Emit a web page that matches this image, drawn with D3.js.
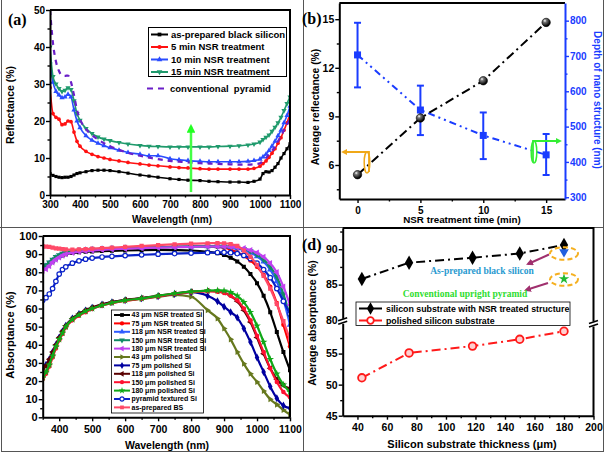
<!DOCTYPE html>
<html><head><meta charset="utf-8">
<script src="https://cdnjs.cloudflare.com/ajax/libs/d3/7.8.5/d3.min.js"></script>
<style>body{margin:0;background:#fff}svg{display:block}</style>
</head><body>
<script>
// ================= DATA =================
// Panel (a) reflectance vs wavelength
const wlA = [300,310,320,330,340,350,360,370,380,390,400,420,440,460,480,500,530,560,600,630,660,700,730,760,800,830,860,900,930,960,980,1000,1010,1020,1030,1040,1050,1060,1070,1080,1090,1100];
const refBS   = [5.8,5.3,5.0,4.8,4.7,4.8,4.8,5.0,5.4,5.8,6.0,6.3,6.6,6.7,6.7,6.6,6.3,5.9,5.4,5.1,4.8,4.4,4.2,4.0,3.9,3.7,3.6,3.5,3.5,3.4,3.7,4.3,5.8,6.3,6.2,6.6,7.5,8.5,10.0,11.2,12.5,13.8];
const ref5    = [29,22,21,20.5,19,19.2,20,19.8,17,14.5,13.2,11.8,11,10.4,10,9.6,9.2,8.8,8.4,8.1,7.9,7.6,7.4,7.3,7.1,7.0,7.0,7.0,7.0,7.0,7.2,7.8,8.5,9.2,10.2,11.3,12.5,14,15.5,17.5,19.5,22];
const ref10   = [36,30.5,28,27,26.3,26.5,27.2,26.5,23,20,18.2,16,14.8,14,13.3,12.8,12.1,11.5,11,10.6,10.6,9.8,9.5,9.3,9.1,9.0,9.0,9.0,9.0,9.1,9.3,9.7,10.3,11,12,13.2,14.5,16,17.5,19.5,21.5,24];
const ref15   = [40,32,30,28.8,28,28.3,29,28.5,25.5,22,20.2,18,16.6,15.7,15.1,14.7,14.2,13.8,13.4,13.2,13.1,13.0,13.0,13.0,13.0,13.0,13.1,13.2,13.3,13.5,13.8,14.3,15,15.6,16.2,17.2,18.3,19.5,21,22.8,24.7,26.5];
const refPyr  = [50,41,36,33.5,32.3,32.2,32.3,30.5,27,23,20.5,17.8,16.2,15,14,13.2,12.2,11.4,10.6,10.1,9.7,9.2,9.0,8.8,8.6,8.5,8.4,8.3,8.2,8.2,8.3,8.6,9.2,10,11,12,13,14.5,16,17.5,19,20.5];
const namesA = ["as-prepared black silicon","5 min NSR treatment","10 min NSR treatment","15 min NSR treatment","conventional  pyramid"];
const xTicksA = [300,400,500,600,700,800,900,1000,1100];
const yTicksA = [0,10,20,30,40,50];

// Panel (b)
const timeB = [0,5,10,15];
const reflB = [5.4,8.9,11.2,14.8];
const depthB = [703,547,475,420];
const depthLo = [611,476,408,363];
const depthHi = [794,616,540,479];
const xTicksB = [0,5,10,15];
const yTicksBL = [6,9,12,15];
const yTicksBR = [300,400,500,600,700,800];

// Panel (c) absorptance vs wavelength
const wlC = [350,360,370,380,390,400,410,420,440,460,480,500,530,560,600,650,700,750,800,850,880,900,920,940,960,980,1000,1020,1040,1060,1080,1100];
const nsr43  = [82,83,84.5,86,87.5,88.5,89.3,90,90.6,91,91.3,91.5,91.7,91.8,92,92.2,92.3,92.2,92,91.3,90.5,89.5,88,86,83,79,74,67,58,47,36,26];
const nsr75  = [82.5,83.5,85,86.5,88,89,90,90.7,91.3,91.8,92.1,92.4,92.7,93,93.3,93.6,93.8,94,94.2,94.3,94,93.5,92.5,91,89,86.5,83,78.5,72,63,51,39];
const nsr118 = [82.5,83.5,85,86.5,88,89,90,90.8,91.5,92,92.3,92.6,92.9,93.1,93.4,93.6,93.8,94,94.2,94.3,94.3,94.2,93.8,93.2,92.2,90.8,88.8,85.8,81.5,75,65,51];
const nsr150 = [83,84,85.5,87,88.5,89.5,90.3,91,91.6,92,92.3,92.6,92.9,93.1,93.4,93.6,93.8,94,94.2,94.3,94.3,94.3,94,93.6,92.8,91.6,89.8,87,83,77.5,68,56];
const nsr180 = [81,81.8,83.5,85.5,87,88.2,89.2,90,90.8,91.3,91.7,92,92.4,92.7,93,93.3,93.6,93.8,94,94.2,94.2,94.2,94,93.7,93.2,92.2,90.8,88.5,85,80,72,62];
const pol43  = [22,25,29,34,39,43,47,50,54,56.5,58.5,60,61.8,63,64.3,65.3,66.5,67.5,66.5,59,54.5,49,43,36,29.5,24,19.5,14.5,10,7,4,1.5];
const pol75  = [27,29,32,36,40,44,47.5,50.5,54.5,57,59,60.5,62.2,63.5,64.6,65.6,66.8,68,69,67,64,61,58,55,49,41.5,33,25,17,10.5,6.5,5];
const pol118 = [26,28.5,32,36,40,44,47.5,50.5,54.5,57,59,60.5,62.3,63.6,64.8,65.8,67,68.3,69.3,69.8,69.5,68.8,67,64,59,52.5,44,35,27,21,17.5,16];
const pol150 = [21,24,28,33,38,42.5,46,49.5,53.5,56,58,59.8,61.7,63,64.3,65.4,66.7,68,69,69.5,69.3,68.6,67,64.5,60,53.5,45,36,27,19.5,14,11];
const pol180 = [22,25,29,34,39,43,46.5,50,54,56.5,58.5,60,61.8,63.2,64.5,65.6,67,68.3,69.3,69.9,70,69.8,69,67,63.5,58,50.5,41.5,32,24,18,14];
const pyrC   = [64.5,66,68,71,75,79,81.5,83,85,86.3,87.2,87.8,88.4,88.8,89.2,89.6,90,90.3,90.6,90.8,90.9,91,90.8,90.3,89.3,87.5,85,81.5,77,71,64,57];
const bsC    = [94.3,94.2,94,93.6,93.2,93,92.8,92.6,92.5,92.6,92.8,93,93.3,93.6,94,94.5,95,95.4,95.8,96,96.1,96,95.5,94.5,92,88.5,84,78,71,62.5,53,43];
const namesC = ["43 \u03bcm NSR treated Si","75 \u03bcm NSR treated Si","118 \u03bcm NSR treated Si","150 \u03bcm NSR treated Si","180 \u03bcm NSR treated Si","43 \u03bcm polished Si","75 \u03bcm polished Si","118 \u03bcm polished Si","150 \u03bcm polished Si","180 \u03bcm polished Si","pyramid textured Si","as-prepared BS"];
const xTicksC = [400,500,600,700,800,900,1000,1100];
const yTicksC = [0,10,20,30,40,50,60,70,80,90,100];

// Panel (d)
const thickD = [43,75,118,150,180];
const absNSR = [85.8,88.1,88.8,89.4,90.6];
const absPol = [51.1,55.1,56.2,57.3,58.6];
const bsPointD = [180,89.6];
const pyrPointD = [180,85.8];
const namesD = ["silicon substrate with NSR treated structure","polished silicon substrate"];
const xTicksD = [40,60,80,100,120,140,160,180,200];
const yTicksDU = [80,85,90];
const yTicksDL = [45,50,55];

// ================= DRAW =================
const FONT = "Arial, 'Liberation Sans', sans-serif";
const SERIF = "'Times New Roman', 'Liberation Serif', serif";
const svg = d3.select("body").append("svg").attr("width",606).attr("height",455)
  .style("font-family",FONT).style("font-weight","bold");
const defs = svg.append("defs");
function arrowMarker(id,color){
  defs.append("marker").attr("id",id).attr("viewBox","0 0 10 10").attr("refX",7).attr("refY",5)
    .attr("markerWidth",3.5).attr("markerHeight",3.5).attr("orient","auto")
    .append("path").attr("d","M0,0L10,5L0,10z").attr("fill",color);
}
arrowMarker("arG","#33ee33"); arrowMarker("arO","#f0a818"); arrowMarker("arP","#a0306e"); arrowMarker("arG2","#22ff22");
const grad = defs.append("radialGradient").attr("id","sph").attr("cx","35%").attr("cy","30%").attr("r","65%");
grad.append("stop").attr("offset","0%").attr("stop-color","#fff");
grad.append("stop").attr("offset","30%").attr("stop-color","#777");
grad.append("stop").attr("offset","100%").attr("stop-color","#000");

// figure frame & dividers
const fc = "#555";
svg.append("rect").attr("x",1.5).attr("y",-3).attr("width",602).attr("height",454.5).attr("fill","none").attr("stroke",fc);
svg.append("line").attr("x1",303.5).attr("x2",303.5).attr("y1",0).attr("y2",452).attr("stroke",fc);
svg.append("line").attr("x1",0).attr("x2",604).attr("y1",227.5).attr("y2",227.5).attr("stroke",fc);

function drawAxis(gen, scale, tf, majors, minors, o){
  o = Object.assign({color:"#000", fs:10, len:4, mlen:2.5, pad:2, sw:2, fmt:d=>d}, o||{});
  const a = svg.append("g").attr("transform", tf);
  a.call(gen(scale).tickValues(majors).tickSize(o.len).tickSizeOuter(0).tickPadding(o.pad).tickFormat(o.fmt));
  const m = a.append("g").call(gen(scale).tickValues(minors).tickSize(o.mlen).tickSizeOuter(0).tickFormat(""));
  m.select(".domain").remove();
  a.selectAll(".domain").attr("stroke",o.color).attr("stroke-width",o.sw);
  a.selectAll(".tick line").attr("stroke",o.color).attr("stroke-width",1.4);
  a.selectAll(".tick text").attr("fill",o.color).attr("font-size",o.fs).attr("font-weight","bold").attr("font-family",FONT);
  return a;
}
function text(x,y,s,o){
  o = Object.assign({fs:10, anchor:"middle", rot:0, color:"#000", family:FONT, dy:"0"}, o||{});
  return svg.append("text").attr("transform",`translate(${x},${y}) rotate(${o.rot})`)
    .attr("text-anchor",o.anchor).attr("dy",o.dy).attr("font-size",o.fs).attr("fill",o.color)
    .attr("font-family",o.family).attr("font-weight","bold").text(s);
}
function sym(type,size){ return d3.symbol().type(type).size(size)(); }
function clip(id,x,y,w,h){ defs.append("clipPath").attr("id",id).append("rect").attr("x",x).attr("y",y).attr("width",w).attr("height",h); }

// ---------- Panel (a) ----------
const xA = d3.scaleLinear().domain([300,1100]).range([50,290]);
const yA = d3.scaleLinear().domain([0,50]).range([195,10]);
clip("clipA",50,10,240,185);
const gA = svg.append("g").attr("clip-path","url(#clipA)");
const seriesA = [
  {v:refBS, c:"#000000", s:d3.symbolSquare, sz:10},
  {v:ref5,  c:"#ff1010", s:d3.symbolCircle, sz:11},
  {v:ref10, c:"#2a4cff", s:d3.symbolTriangle, sz:12},
  {v:ref15, c:"#1f9a6c", s:d3.symbolTriangle, sz:12, rot:180},
];
const lineA = (v)=>d3.line().x((d,i)=>xA(wlA[i])).y(d=>yA(d)).curve(d3.curveMonotoneX)(v);
seriesA.forEach(s=>{
  gA.append("path").attr("d",lineA(s.v)).attr("fill","none").attr("stroke",s.c).attr("stroke-width",1.6);
  gA.selectAll(null).data(s.v).enter().append("path").attr("d",sym(s.s,s.sz))
    .attr("transform",(d,i)=>`translate(${xA(wlA[i])},${yA(d)}) rotate(${s.rot||0})`).attr("fill",s.c);
});
gA.append("path").attr("d",lineA(refPyr)).attr("fill","none").attr("stroke","#6a1fc8").attr("stroke-width",2.2).attr("stroke-dasharray","5,5");
svg.append("path").attr("d","M50,10H290V195").attr("fill","none").attr("stroke","#000").attr("stroke-width",2);
drawAxis(d3.axisBottom,xA,"translate(0,195)",xTicksA,d3.range(350,1100,100),{fs:10,pad:2});
drawAxis(d3.axisLeft,yA,"translate(50,0)",yTicksA,[5,15,25,35,45],{fs:10,pad:1});
// green arrow
svg.append("line").attr("x1",xA(770)).attr("x2",xA(770)).attr("y1",yA(0.8)).attr("y2",yA(18.5))
  .attr("stroke","#44ff44").attr("stroke-width",2.5).attr("marker-end","url(#arG2)");
// legend a
svg.append("rect").attr("x",148.5).attr("y",27.5).attr("width",138).attr("height",49).attr("fill","#fff").attr("stroke","#000").attr("stroke-width",1);
const legYA = [34.5,47,59.5,72];
seriesA.forEach((s,i)=>{
  svg.append("line").attr("x1",151).attr("x2",168).attr("y1",legYA[i]).attr("y2",legYA[i]).attr("stroke",s.c).attr("stroke-width",2);
  svg.append("path").attr("d",sym(s.s,14)).attr("transform",`translate(159.5,${legYA[i]}) rotate(${s.rot||0})`).attr("fill",s.c);
  text(171,legYA[i],namesA[i],{fs:9.5,anchor:"start",dy:"0.35em"});
});
svg.append("line").attr("x1",147).attr("x2",166).attr("y1",88.5).attr("y2",88.5).attr("stroke","#6a1fc8").attr("stroke-width",2.2).attr("stroke-dasharray","6,5");
text(170,88.5,namesA[4],{fs:9.5,anchor:"start",dy:"0.35em"}).attr("xml:space","preserve");
text(172,223,"Wavelength (nm)",{fs:10});
text(10,105,"Reflectance (%)",{fs:10.5,rot:-90,dy:"0.35em"});
text(8,25,"(a)",{fs:16,anchor:"start",family:SERIF});

// ---------- Panel (b) ----------
const xB = d3.scaleLinear().domain([-1.45,16.5]).range([339.3,565]);
const yBL = d3.scaleLinear().domain([3.9,16]).range([199,3]);
const yBR = d3.scaleLinear().domain([295,850]).range([199,3]);
svg.append("line").attr("x1",339.3).attr("x2",565).attr("y1",3).attr("y2",3).attr("stroke","#000").attr("stroke-width",2);
drawAxis(d3.axisBottom,xB,"translate(0,199)",xTicksB,[2.5,7.5,12.5],{fs:10,pad:4,len:4});
drawAxis(d3.axisLeft,yBL,"translate(339.3,0)",yTicksBL,[4.5,7.5,10.5,13.5],{fs:10.5,pad:1});
const blue = "#1a3cff";
drawAxis(d3.axisRight,yBR,"translate(565,0)",yTicksBR,[350,450,550,650,750],{fs:10,pad:1,color:blue});
// blue dash-dot-dot line
svg.append("path").attr("d",d3.line().x((d,i)=>xB(timeB[i])).y(d=>yBR(d))(depthB))
  .attr("fill","none").attr("stroke",blue).attr("stroke-width",2).attr("stroke-dasharray","7,4,2,4,2,4");
// error bars
timeB.forEach((t,i)=>{
  const x = xB(t);
  svg.append("line").attr("x1",x).attr("x2",x).attr("y1",yBR(depthLo[i])).attr("y2",yBR(depthHi[i])).attr("stroke",blue).attr("stroke-width",2);
  [depthLo[i],depthHi[i]].forEach(v=>svg.append("line").attr("x1",x-3.5).attr("x2",x+3.5).attr("y1",yBR(v)).attr("y2",yBR(v)).attr("stroke",blue).attr("stroke-width",2));
});
svg.selectAll(null).data(depthB).enter().append("rect")
  .attr("x",(d,i)=>xB(timeB[i])-3.5).attr("y",d=>yBR(d)-3.5).attr("width",7).attr("height",7).attr("fill",blue);
// black dash-dot line
svg.append("path").attr("d",d3.line().x((d,i)=>xB(timeB[i])).y(d=>yBL(d))(reflB))
  .attr("fill","none").attr("stroke","#000").attr("stroke-width",2).attr("stroke-dasharray","9,4,2,4");
svg.selectAll(null).data(reflB).enter().append("circle")
  .attr("cx",(d,i)=>xB(timeB[i])).attr("cy",d=>yBL(d)).attr("r",4.2).attr("fill","url(#sph)").attr("stroke","#000").attr("stroke-width",0.6);
// annotations
svg.append("ellipse").attr("cx",367).attr("cy",162.5).attr("rx",2.8).attr("ry",10.5).attr("fill","none").attr("stroke","#f0a818").attr("stroke-width",1.5);
svg.append("path").attr("d","M369,172 V152 H343").attr("fill","none").attr("stroke","#f0a818").attr("stroke-width",1.8).attr("marker-end","url(#arO)");
svg.append("ellipse").attr("cx",534).attr("cy",152).attr("rx",2.8).attr("ry",11).attr("fill","none").attr("stroke","#33ee33").attr("stroke-width",1.5);
svg.append("path").attr("d","M533,162 V141 H560").attr("fill","none").attr("stroke","#33ee33").attr("stroke-width",1.8).attr("marker-end","url(#arG)");
text(462,223,"NSR treatment time (min)",{fs:9.8});
text(315,107,"Average reflectance (%)",{fs:10.3,rot:-90,dy:"0.35em"});
text(597.5,100,"Depth of nano structure (nm)",{fs:10,rot:90,dy:"0.35em",color:blue});
text(302,24,"(b)",{fs:16,anchor:"start",family:SERIF});

// ---------- Panel (c) ----------
const xC = d3.scaleLinear().domain([350,1100]).range([42.7,290]);
const yC = d3.scaleLinear().domain([0,100]).range([417.3,236]);
clip("clipC",42.7,236,247.3,181.3);
const gC = svg.append("g").attr("clip-path","url(#clipC)");
const seriesC = [
  {v:nsr43,  c:"#000000", s:d3.symbolSquare, sz:16},
  {v:nsr75,  c:"#ff0000", s:d3.symbolCircle, sz:16},
  {v:nsr118, c:"#2f5cff", s:d3.symbolTriangle, sz:18},
  {v:nsr150, c:"#118a66", s:d3.symbolTriangle, sz:18, rot:180},
  {v:nsr180, c:"#c040f0", s:d3.symbolTriangle, sz:18, rot:-90},
  {v:pol43,  c:"#66781e", s:d3.symbolTriangle, sz:16, rot:90},
  {v:pol75,  c:"#0000a0", s:d3.symbolDiamond, sz:18},
  {v:pol118, c:"#5a0000", s:d3.symbolTriangle, sz:16, rot:-90},
  {v:pol150, c:"#ff1030", s:d3.symbolCircle, sz:16},
  {v:pol180, c:"#10a818", s:d3.symbolStar, sz:18},
  {v:pyrC,   c:"#0a22c8", s:d3.symbolCircle, sz:16, open:true},
  {v:bsC,    c:"#ff4a68", s:d3.symbolSquare, sz:18},
];
const lineC = (v)=>d3.line().x((d,i)=>xC(wlC[i])).y(d=>yC(d)).curve(d3.curveMonotoneX)(v);
seriesC.forEach(s=>{
  gC.append("path").attr("d",lineC(s.v)).attr("fill","none").attr("stroke",s.c).attr("stroke-width",2.2);
  gC.selectAll(null).data(s.v).enter().append("path").attr("d",sym(s.s,s.sz))
    .attr("transform",(d,i)=>`translate(${xC(wlC[i])},${yC(d)}) rotate(${s.rot||0})`)
    .attr("fill",s.open?"#fff":s.c).attr("stroke",s.open?s.c:"none").attr("stroke-width",1.2);
});
svg.append("path").attr("d","M42.7,236H290V417.3").attr("fill","none").attr("stroke","#000").attr("stroke-width",2);
drawAxis(d3.axisBottom,xC,"translate(0,417.3)",xTicksC,d3.range(350,1100,100),{fs:10.5,pad:4});
drawAxis(d3.axisLeft,yC,"translate(42.7,0)",yTicksC,d3.range(5,100,10),{fs:11,pad:1});
// legend c
svg.append("rect").attr("x",111.5).attr("y",310).attr("width",92).attr("height",103).attr("fill","#fff").attr("stroke","#000").attr("stroke-width",0.8);
seriesC.forEach((s,i)=>{
  const y = 315 + i*8.4;
  svg.append("line").attr("x1",114).attr("x2",130).attr("y1",y).attr("y2",y).attr("stroke",s.c).attr("stroke-width",2);
  svg.append("path").attr("d",sym(s.s,14)).attr("transform",`translate(122,${y}) rotate(${s.rot||0})`)
    .attr("fill",s.open?"#fff":s.c).attr("stroke",s.open?s.c:"none").attr("stroke-width",1.2);
  text(131.5,y,namesC[i],{fs:7,anchor:"start",dy:"0.35em"});
});
text(167,449,"Wavelength (nm)",{fs:10.5});
text(10,335,"Absorptance (%)",{fs:11,rot:-90,dy:"0.35em"});

// ---------- Panel (d) ----------
const xD = d3.scaleLinear().domain([30,200]).range([342.7,593.5]);
const yDU = d3.scaleLinear().domain([80,93]).range([320,228]);
const yDL = d3.scaleLinear().domain([45,60]).range([415.7,322.5]);
svg.append("path").attr("d","M342.7,228H593.5V415.7").attr("fill","none").attr("stroke","#000").attr("stroke-width",2);
drawAxis(d3.axisBottom,xD,"translate(0,415.7)",xTicksD,d3.range(50,200,20),{fs:10.5,pad:4});
drawAxis(d3.axisLeft,yDU,"translate(342.7,0)",yTicksDU,[82.5,87.5,92.5],{fs:10.5,pad:1});
drawAxis(d3.axisLeft,yDL,"translate(342.7,0)",yTicksDL,[47.5,52.5,57.5],{fs:10.5,pad:1});
// break marks
function brk(x,y){
  svg.append("rect").attr("x",x-4).attr("y",y-2.5).attr("width",8).attr("height",5).attr("fill","#fff");
  svg.append("line").attr("x1",x-4.5).attr("x2",x+4.5).attr("y1",y-0.5).attr("y2",y-3.5).attr("stroke","#000").attr("stroke-width",1.5);
  svg.append("line").attr("x1",x-4.5).attr("x2",x+4.5).attr("y1",y+3).attr("y2",y).attr("stroke","#000").attr("stroke-width",1.5);
}
brk(342.7,321.3); brk(593.5,324);
// lines
svg.append("path").attr("d",d3.line().x((d,i)=>xD(thickD[i])).y(d=>yDU(d))(absNSR))
  .attr("fill","none").attr("stroke","#000").attr("stroke-width",2).attr("stroke-dasharray","9,4,2,4");
svg.append("path").attr("d",d3.line().x((d,i)=>xD(thickD[i])).y(d=>yDL(d))(absPol))
  .attr("fill","none").attr("stroke","#ff1a1a").attr("stroke-width",2).attr("stroke-dasharray","9,4,2,4");
svg.selectAll(null).data(absNSR).enter().append("path").attr("d",sym(d3.symbolDiamond,60))
  .attr("transform",(d,i)=>`translate(${xD(thickD[i])},${yDU(d)})`).attr("fill","#000");
svg.selectAll(null).data(absPol).enter().append("circle")
  .attr("cx",(d,i)=>xD(thickD[i])).attr("cy",d=>yDL(d)).attr("r",3.8).attr("fill","#ffd0d0").attr("stroke","#ff1a1a").attr("stroke-width",1.8);
// special points
svg.append("path").attr("d",sym(d3.symbolTriangle,40)).attr("transform",`translate(${xD(bsPointD[0])},${yDU(bsPointD[1])}) rotate(180)`).attr("fill","#2060e0");
svg.append("path").attr("d",sym(d3.symbolStar,35)).attr("transform",`translate(${xD(pyrPointD[0])},${yDU(pyrPointD[1])})`).attr("fill","#22bb33");
svg.append("ellipse").attr("cx",xD(180)).attr("cy",253.5).attr("rx",14).attr("ry",6.3).attr("fill","none").attr("stroke","#f5b020").attr("stroke-width",2).attr("stroke-dasharray","5,3");
svg.append("ellipse").attr("cx",xD(180)).attr("cy",279.5).attr("rx",14).attr("ry",6.3).attr("fill","none").attr("stroke","#f5b020").attr("stroke-width",2).attr("stroke-dasharray","5,3");
svg.append("line").attr("x1",549).attr("y1",254.5).attr("x2",528).attr("y2",264).attr("stroke","#a0306e").attr("stroke-width",2).attr("marker-end","url(#arP)");
svg.append("line").attr("x1",548).attr("y1",283).attr("x2",526).attr("y2",290).attr("stroke","#a0306e").attr("stroke-width",2).attr("marker-end","url(#arP)");
text(482,274,"As-prepared black silicon",{fs:9.5,family:SERIF,color:"#2a9ad0"});
text(465,297,"Conventional upright pyramid",{fs:9.5,family:SERIF,color:"#30dd30"});
// legend d
svg.append("rect").attr("x",356).attr("y",302).attr("width",214).attr("height",23.5).attr("fill","#fff").attr("stroke","#000").attr("stroke-width",0.8);
svg.append("line").attr("x1",359).attr("x2",382).attr("y1",308.5).attr("y2",308.5).attr("stroke","#000").attr("stroke-width",2);
svg.append("path").attr("d",sym(d3.symbolDiamond,45)).attr("transform","translate(370.5,308.5)").attr("fill","#000");
svg.append("line").attr("x1",359).attr("x2",382).attr("y1",320.5).attr("y2",320.5).attr("stroke","#ff1a1a").attr("stroke-width",2);
svg.append("circle").attr("cx",370.5).attr("cy",320.5).attr("r",3.3).attr("fill","#fff").attr("stroke","#ff1a1a").attr("stroke-width",1.8);
text(386,308.5,namesD[0],{fs:8.8,anchor:"start",dy:"0.35em"});
text(386,320.5,namesD[1],{fs:8.8,anchor:"start",dy:"0.35em"});
text(472,448,"Silicon substrate thickness (\u03bcm)",{fs:11});
text(312,323,"Average absorptance (%)",{fs:10.5,rot:-90,dy:"0.35em"});
text(302,250,"(d)",{fs:16,anchor:"start",family:SERIF});
</script>
</body></html>
